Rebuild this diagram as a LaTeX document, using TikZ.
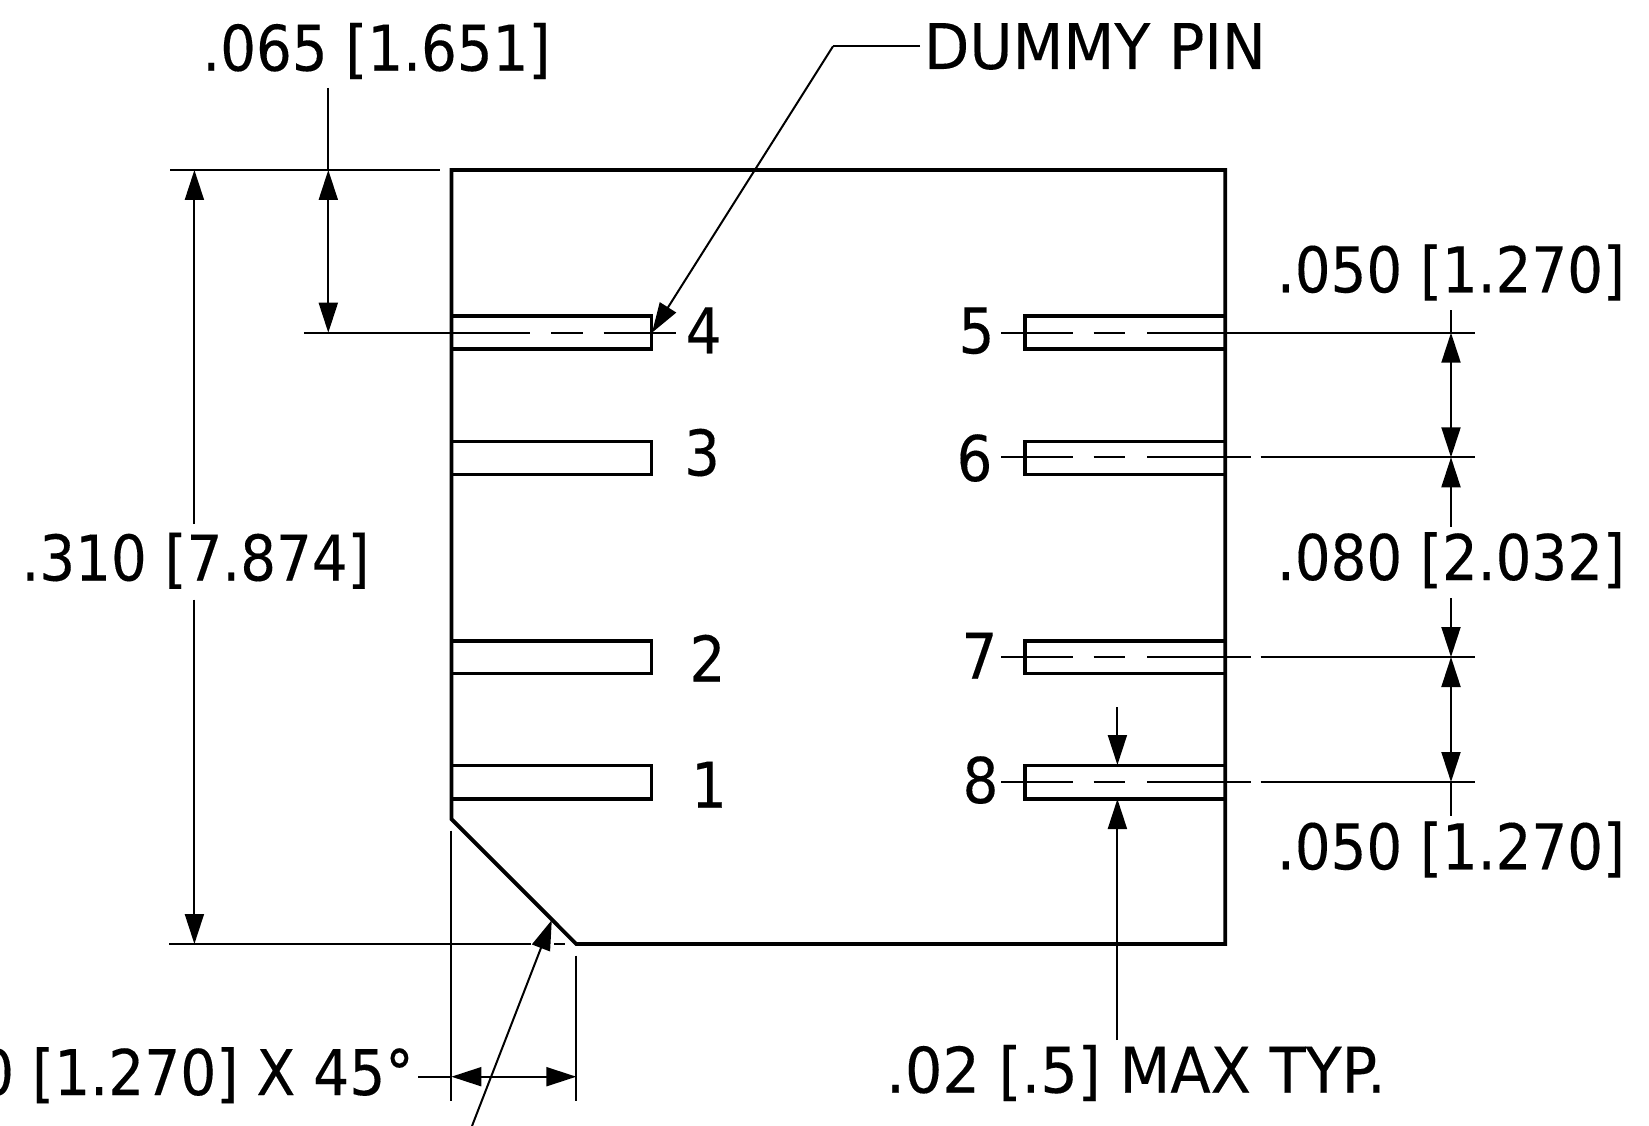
\documentclass[tikz,border=0pt]{standalone}
\usepackage{fontspec}
\setmainfont[FakeStretch=0.993,FakeBold=0.2]{DejaVu Sans Condensed}
\newfontfamily\widefont[FakeStretch=1.04,FakeBold=0.2]{DejaVu Sans Condensed}
\newfontfamily\midfont[FakeStretch=1.0,FakeBold=0.2]{DejaVu Sans Condensed}
\usetikzlibrary{arrows.meta}
\tikzset{
  thinline/.style={line width=2pt,black},
  bodyline/.style={line width=3.8pt,black,line join=miter,line cap=round},
  pinline/.style={line width=3.6pt,black,line join=miter},
  tip/.style={thinline,-{Triangle[length=30pt,width=19pt]}},
  twotip/.style={thinline,{Triangle[length=30pt,width=19pt]}-{Triangle[length=30pt,width=19pt]}},
  lbl/.style={font=\fontsize{63}{70}\selectfont,inner sep=0pt,anchor=base,text=black},
}
\begin{document}
\begin{tikzpicture}[x=1pt,y=-1pt]
\useasboundingbox[fill=white] (0,0) rectangle (1649,1126);
% body
\coordinate (tl) at (451.4,170);
\coordinate (tr) at (1225.2,170);
\coordinate (br) at (1225.2,944);
\coordinate (cb) at (576.3,944);
\coordinate (cl) at (451.4,819);
\draw[bodyline] (tl) -- (tr) -- (br) -- (cb) -- (cl) -- cycle;
% pins
\foreach \yt/\yb/\n in {316/349/a,441.3/474.3/b,641/673.5/c,765.3/799/d}{
  \draw[pinline] (451.4,\yt) -- (651.3,\yt) -- (651.3,\yb) -- (451.4,\yb);
  \draw[pinline] (1225.2,\yt) -- (1025,\yt) -- (1025,\yb) -- (1225.2,\yb);
}
% centre lines, right
\foreach \y in {332.7,457.3,657,782}{
  \draw[thinline] (1001,\y) -- (1072.5,\y);
  \draw[thinline] (1093.7,\y) -- (1125.4,\y);
}
\draw[thinline] (1147,332.7) -- (1475.4,332.7);
\foreach \y in {457.3,657,782}{
  \draw[thinline] (1147,\y) -- (1250.5,\y);
  \draw[thinline] (1260.6,\y) -- (1475.4,\y);
}
% centre line, left pin 4
\draw[thinline] (303.8,332.7) -- (529.6,332.7);
\draw[thinline] (551,332.7) -- (583,332.7);
\draw[thinline] (603.5,332.7) -- (676,332.7);
% extension lines, left
\draw[thinline] (170,170) -- (440,170);
\draw[thinline] (169.4,944) -- (530.6,944);
\draw[thinline] (554,944) -- (565,944);
\draw[thinline] (451.4,830.7) -- (451.4,1101);
\draw[thinline] (576.3,955.7) -- (576.3,1101);
% labels
\node[lbl] (d065) at (376.4,70.7) {.065 [1.651]};
\node[lbl] (dummy) at (1095,69) {\widefont DUMMY PIN};
\node[lbl] (d310) at (195.6,580.5) {.310 [7.874]};
\node[lbl] (d050a) at (1451,292.3) {.050 [1.270]};
\node[lbl] (d080) at (1451,580) {.080 [2.032]};
\node[lbl] (d050b) at (1451,869.3) {.050 [1.270]};
\node[lbl] (d02) at (1136,1092.7) {\widefont .02 [.5] MAX TYP.};
\node[lbl,anchor=base east] (d45) at (414,1095) {\midfont .050 [1.270] X 45°};
\node[lbl] (p4) at (703.5,353.3) {4};
\node[lbl] (p3) at (702,475.5) {3};
\node[lbl] (p2) at (707.5,681.5) {2};
\node[lbl] (p1) at (709,807.7) {1};
\node[lbl] (p5) at (976.5,353.3) {5};
\node[lbl] (p6) at (974.5,481) {6};
\node[lbl] (p7) at (979.5,678.7) {7};
\node[lbl] (p8) at (980.5,803) {8};
% overall height
\draw[tip] (194.4,524) -- (194.4,170);
\draw[tip] (194.4,599.5) -- (194.4,944);
% .065
\draw[thinline] (328.3,88) -- (328.3,170);
\draw[twotip] (328.3,170) -- (328.3,332.7);
% dummy pin leader
\coordinate (elbow) at (833,46.3);
\draw[thinline] (920,46.3) -- (elbow);
\draw[tip] (elbow) -- (652,332.7);
% pitch dims
\draw[thinline] (1451,310) -- (1451,332.7);
\draw[twotip] (1451,332.7) -- (1451,457.3);
\draw[tip] (1451,526.7) -- (1451,457.3);
\draw[tip] (1451,598) -- (1451,657);
\draw[twotip] (1451,657) -- (1451,782);
\draw[thinline] (1451,782) -- (1451,816);
% lead thickness
\draw[tip] (1117.4,707.3) -- (1117.4,765);
\draw[tip] (1117.4,1040) -- (1117.4,799);
% chamfer
\draw[thinline] (418,1076.7) -- (451.4,1076.7);
\draw[twotip] (451.4,1076.7) -- (576.3,1076.7);
\draw[tip] (472,1126) -- (551.8,920);
\end{tikzpicture}
\end{document}
